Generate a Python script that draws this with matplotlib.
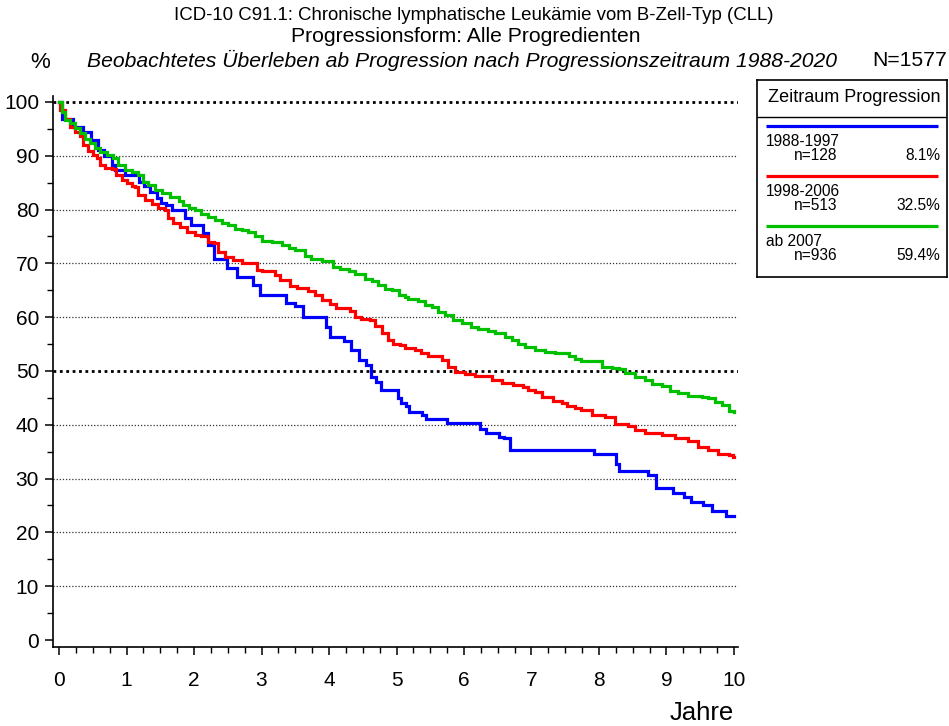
import matplotlib
matplotlib.use("Agg")
import matplotlib.pyplot as plt

plt.rcParams["font.family"] = ["Liberation Sans", "DejaVu Sans"]

# Kaplan-Meier Stufen: Zeit ab Progression (Jahre) und beobachtetes Ueberleben (%)
t_8897 = [0, 0.05, 0.2, 0.35, 0.47, 0.57, 0.67, 0.78, 0.83, 0.97, 1.18, 1.26, 1.34,
          1.45, 1.51, 1.58, 1.68, 1.86, 1.96, 2.13, 2.2, 2.29, 2.49, 2.64, 2.88, 2.97,
          3.36, 3.5, 3.62, 3.95, 4.02, 4.22, 4.32, 4.45, 4.55, 4.62, 4.7, 4.77, 5.02,
          5.07, 5.14, 5.19, 5.38, 5.43, 5.75, 6.24, 6.33, 6.52, 6.6, 6.68, 7.93, 8.25,
          8.3, 8.72, 8.84, 9.09, 9.26, 9.36, 9.54, 9.68, 9.88, 10.0]
s_8897 = [100, 96.9, 95.4, 94.5, 92.9, 91.1, 89.9, 88.3, 87.4, 86.4, 85.2, 84.3, 83.3,
          82.1, 81.2, 80.9, 80.0, 78.4, 77.1, 75.6, 73.4, 70.9, 69.1, 67.4, 66.0, 64.1,
          62.6, 62.0, 60.1, 58.2, 56.4, 55.5, 53.9, 52.0, 51.1, 48.9, 48.0, 46.5, 45.0,
          44.0, 43.4, 42.4, 41.8, 41.0, 40.3, 39.3, 38.5, 37.8, 37.5, 35.3, 34.6, 32.8,
          31.5, 30.7, 28.2, 27.3, 26.5, 25.7, 25.0, 24.0, 23.1, 23.1]

t_9806 = [0, 0.01, 0.09, 0.16, 0.24, 0.31, 0.36, 0.43, 0.51, 0.56, 0.61, 0.68, 0.78,
          0.85, 0.93, 1.0, 1.08, 1.13, 1.17, 1.27, 1.37, 1.47, 1.57, 1.62, 1.69, 1.79,
          1.89, 2.01, 2.11, 2.21, 2.29, 2.36, 2.46, 2.58, 2.71, 2.93, 3.0, 3.2, 3.27,
          3.42, 3.52, 3.69, 3.79, 3.89, 4.01, 4.11, 4.31, 4.39, 4.48, 4.61, 4.68, 4.78,
          4.88, 4.95, 5.05, 5.13, 5.27, 5.37, 5.47, 5.67, 5.77, 5.87, 6.01, 6.16, 6.34,
          6.41, 6.56, 6.73, 6.88, 6.95, 7.05, 7.15, 7.32, 7.45, 7.52, 7.64, 7.74, 7.89,
          8.09, 8.24, 8.43, 8.53, 8.68, 8.93, 9.13, 9.32, 9.47, 9.62, 9.77, 9.92, 9.99,
          10.0]
s_9806 = [100, 98.5, 96.9, 95.4, 94.5, 93.6, 92.0, 90.8, 90.1, 89.5, 88.3, 87.8, 87.5,
          86.4, 85.5, 84.9, 84.4, 84.1, 82.7, 81.8, 81.0, 80.3, 80.0, 78.4, 77.5, 76.8,
          75.9, 75.3, 75.0, 74.0, 73.7, 72.2, 71.2, 70.6, 70.0, 68.8, 68.5, 67.8, 66.9,
          65.8, 65.4, 64.8, 64.1, 63.2, 62.5, 61.7, 61.2, 60.1, 59.7, 59.4, 58.3, 57.0,
          55.8, 55.0, 54.8, 54.2, 53.9, 53.3, 52.7, 52.0, 50.8, 49.9, 49.4, 49.1, 49.0,
          48.3, 47.8, 47.4, 47.1, 46.5, 46.0, 45.2, 44.5, 44.1, 43.4, 43.1, 42.8, 41.8,
          41.5, 40.1, 39.8, 39.0, 38.4, 38.1, 37.5, 36.9, 35.9, 35.3, 34.6, 34.4, 34.0,
          34.0]

t_ab07 = [0, 0.04, 0.09, 0.16, 0.24, 0.31, 0.39, 0.46, 0.53, 0.61, 0.71, 0.8, 0.88,
          0.98, 1.08, 1.17, 1.25, 1.32, 1.42, 1.52, 1.64, 1.77, 1.84, 1.92, 2.01, 2.11,
          2.21, 2.31, 2.41, 2.51, 2.61, 2.71, 2.8, 2.9, 3.0, 3.15, 3.3, 3.4, 3.5, 3.64,
          3.74, 3.89, 4.06, 4.16, 4.29, 4.39, 4.53, 4.63, 4.73, 4.83, 4.93, 5.03, 5.13,
          5.17, 5.32, 5.42, 5.52, 5.62, 5.72, 5.84, 5.97, 6.11, 6.21, 6.36, 6.46, 6.61,
          6.71, 6.8, 6.9, 7.05, 7.2, 7.35, 7.47, 7.55, 7.64, 7.74, 8.04, 8.19, 8.29,
          8.39, 8.53, 8.68, 8.78, 8.93, 9.05, 9.17, 9.32, 9.52, 9.62, 9.72, 9.82, 9.92,
          10.0]
s_ab07 = [100, 98.2, 96.7, 96.0, 95.1, 94.2, 93.2, 92.3, 91.4, 90.6, 90.1, 89.5, 88.3,
          87.4, 86.9, 86.4, 85.2, 84.6, 83.6, 83.0, 82.4, 81.6, 80.9, 80.3, 80.0, 79.2,
          78.7, 78.1, 77.5, 77.1, 76.4, 76.2, 75.9, 75.0, 74.2, 73.9, 73.4, 72.8, 72.5,
          71.4, 70.9, 70.5, 69.4, 68.9, 68.5, 68.0, 67.0, 66.8, 66.0, 65.2, 65.1, 64.1,
          63.7, 63.3, 63.0, 62.3, 61.8, 61.0, 60.4, 59.4, 58.9, 58.2, 57.8, 57.4, 57.1,
          56.3, 55.8, 55.0, 54.5, 53.9, 53.6, 53.4, 53.3, 52.7, 52.2, 51.9, 50.8, 50.5,
          50.3, 49.6, 48.9, 48.3, 47.6, 47.2, 46.3, 45.9, 45.4, 45.2, 44.9, 44.3, 43.7,
          42.6, 42.4]

zeitraum = ["1988-1997", "1998-2006", "ab 2007"]
fallzahl = [128, 513, 936]
farben = ["#0000ff", "#ff0000", "#00c000"]

N = sum(fallzahl)
W, H = 949, 726

fig = plt.figure(figsize=(W / 100, H / 100), dpi=100)
ax = fig.add_axes([53 / W, 1 - 647 / H, (738 - 53) / W, (647 - 96) / H])

# gepunktete Hilfslinien, 50 % und 100 % kraeftiger
for yv in range(10, 101, 10):
    if yv in (50, 100):
        ax.axhline(yv, color="black", lw=2.0, ls=(0, (1, 1.3)), zorder=1)
    else:
        ax.axhline(yv, color="#333333", lw=0.9, ls=(0, (1, 1.5)), zorder=1)

for t, s, c in zip([t_8897, t_9806, t_ab07], [s_8897, s_9806, s_ab07], farben):
    ax.plot(t, s, drawstyle="steps-post", color=c, lw=2.3, zorder=3,
            solid_joinstyle="miter")

ax.set_xlim(-0.09, 10.06)
ax.set_ylim(-1.3, 101.1)
ax.set_xticks(range(0, 11))
ax.set_xticks([i * 0.25 for i in range(41)], minor=True)
ax.set_yticks(range(0, 101, 10))
ax.set_yticks(range(5, 100, 10), minor=True)
ax.tick_params(axis="both", which="major", labelsize=15, direction="out",
               length=6, width=1.1, color="black")
ax.tick_params(axis="both", which="minor", direction="out", length=4, width=1.0)
ax.tick_params(axis="x", which="major", pad=11)
ax.tick_params(axis="y", which="major", pad=4)
ax.spines["top"].set_visible(False)
ax.spines["right"].set_visible(False)
for sp in ("left", "bottom"):
    ax.spines[sp].set_linewidth(1.2)

# Titel
fig.text(474 / W, 1 - 16 / H, "ICD-10 C91.1: Chronische lymphatische Leukämie vom B-Zell-Typ (CLL)",
         ha="center", va="center", fontsize=13.4)
fig.text(466 / W, 1 - 37 / H, "Progressionsform: Alle Progredienten",
         ha="center", va="center", fontsize=15.2)
fig.text(87 / W, 1 - 60 / H,
         "Beobachtetes Überleben ab Progression nach Progressionszeitraum 1988-2020",
         ha="left", va="center", fontsize=15.2, style="italic")
fig.text(947 / W, 1 - 60 / H, f"N={N}", ha="right", va="center", fontsize=15.2)
fig.text(40 / W, 1 - 62 / H, "%", ha="center", va="center", fontsize=16)
fig.text(734 / W, 1 - 713 / H, "Jahre", ha="right", va="center", fontsize=18.5)

# Legende als eigener Kasten
lg = fig.add_axes([757 / W, 1 - 277 / H, 190 / W, 197 / H])
lg.set_xlim(0, 190)
lg.set_ylim(197, 0)
lg.set_xticks([])
lg.set_yticks([])
for sp in lg.spines.values():
    sp.set_linewidth(1.2)
lg.text(97, 17, "Zeitraum Progression", ha="center", va="center", fontsize=13)
lg.axhline(37, color="black", lw=1.0)
for i, (name, n, c) in enumerate(zip(zeitraum, fallzahl, farben)):
    y0 = 46 + i * 50
    lg.plot([9, 181], [y0, y0], color=c, lw=2.3, solid_capstyle="butt")
    lg.text(9, y0 + 15, name, ha="left", va="center", fontsize=11.2)
    lg.text(37, y0 + 30, f"n={n}", ha="left", va="center", fontsize=11.2)
    lg.text(183, y0 + 30, f"{100 * n / N:.1f}%", ha="right", va="center", fontsize=11.2)

fig.savefig("out.png", dpi=100)
